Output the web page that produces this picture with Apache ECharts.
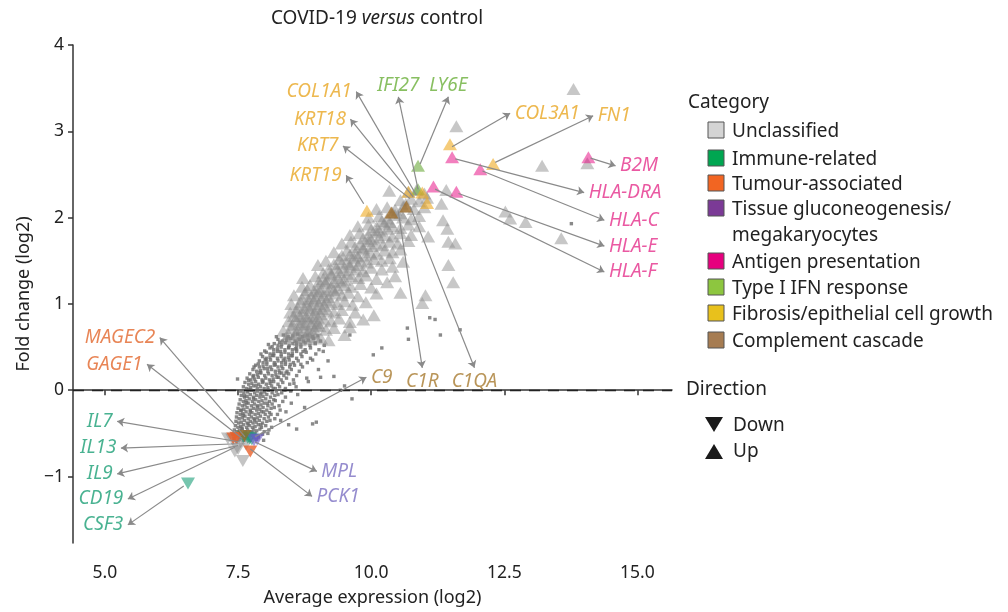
<!DOCTYPE html>
<html>
<head>
<meta charset="utf-8">
<script src="https://cdn.jsdelivr.net/npm/echarts@6/dist/echarts.min.js"></script>
<style>html,body{margin:0;padding:0;background:#fff}#c{width:1008px;height:612px}</style>
</head>
<body>
<div id="c"></div>
<script>
// ---------- DATA ----------
const xTicks = [5.0, 7.5, 10.0, 12.5, 15.0];
const yTicks = [-1, 0, 1, 2, 3, 4];

// non-significant genes (small dots)
const nsGenes = [
[7.42,-0.56],[7.47,-0.59],[7.52,-0.57],[7.57,-0.55],[7.61,-0.58],[7.67,-0.56],[7.73,-0.58],[7.79,-0.55],[7.85,-0.57],
[7.41,-0.51],[7.46,-0.53],[7.5,-0.52],[7.55,-0.50],[7.6,-0.53],[7.65,-0.51],[7.7,-0.53],[7.76,-0.52],[7.82,-0.50],[7.89,-0.53],[7.96,-0.51],
[7.43,-0.46],[7.48,-0.48],[7.53,-0.47],[7.58,-0.45],[7.63,-0.48],[7.68,-0.46],[7.74,-0.48],[7.79,-0.46],[7.85,-0.47],[7.91,-0.45],[7.99,-0.48],[8.08,-0.46],
[7.45,-0.41],[7.5,-0.43],[7.55,-0.42],[7.6,-0.40],[7.66,-0.43],[7.71,-0.41],[7.77,-0.43],[7.82,-0.42],[7.88,-0.40],[7.94,-0.43],[8.02,-0.41],[8.13,-0.43],
[7.46,-0.36],[7.51,-0.38],[7.56,-0.37],[7.62,-0.35],[7.67,-0.38],[7.73,-0.36],[7.78,-0.38],[7.84,-0.37],[7.9,-0.35],[7.96,-0.38],[8.04,-0.36],[8.9,-0.39],[8.97,-0.37],
[7.47,-0.31],[7.52,-0.33],[7.58,-0.32],[7.63,-0.30],[7.69,-0.33],[7.75,-0.31],[7.8,-0.33],[7.86,-0.32],[7.92,-0.30],[7.99,-0.33],[8.07,-0.31],[8.19,-0.33],
[7.48,-0.26],[7.54,-0.28],[7.59,-0.27],[7.65,-0.25],[7.71,-0.28],[7.76,-0.26],[7.82,-0.28],[7.88,-0.27],[7.94,-0.25],[8.01,-0.28],[8.09,-0.26],[8.24,-0.28],
[7.5,-0.21],[7.56,-0.23],[7.61,-0.22],[7.67,-0.20],[7.73,-0.23],[7.79,-0.21],[7.85,-0.23],[7.91,-0.22],[7.97,-0.20],[8.04,-0.23],[8.12,-0.21],[8.29,-0.23],
[7.52,-0.16],[7.58,-0.18],[7.63,-0.17],[7.69,-0.15],[7.75,-0.18],[7.81,-0.16],[7.87,-0.18],[7.93,-0.17],[7.99,-0.15],[8.06,-0.18],[8.14,-0.16],[8.27,-0.18],
[7.54,-0.11],[7.6,-0.13],[7.65,-0.12],[7.71,-0.10],[7.77,-0.13],[7.83,-0.11],[7.89,-0.13],[7.95,-0.12],[8.02,-0.10],[8.09,-0.13],[8.17,-0.11],[8.34,-0.13],[9.64,-0.10],
[7.56,-0.06],[7.62,-0.08],[7.67,-0.07],[7.73,-0.05],[7.79,-0.08],[7.85,-0.06],[7.91,-0.08],[7.97,-0.07],[8.04,-0.05],[8.11,-0.08],[8.19,-0.06],[8.39,-0.08],
[7.55,-0.01],[7.61,-0.03],[7.68,-0.02],[7.75,0.00],[7.81,-0.03],[7.87,-0.01],[7.94,-0.03],[8.0,-0.02],[8.07,0.00],[8.14,-0.03],[8.22,-0.01],[8.32,-0.03],[8.49,-0.01],[9.42,0.00],
[7.6,0.04],[7.66,0.02],[7.73,0.03],[7.79,0.05],[7.86,0.02],[7.92,0.04],[7.99,0.02],[8.06,0.03],[8.13,0.05],[8.2,0.02],[8.28,0.04],[8.39,0.02],[8.59,0.04],
[7.63,0.09],[7.7,0.07],[7.76,0.08],[7.83,0.10],[7.89,0.07],[7.96,0.09],[8.03,0.07],[8.1,0.08],[8.17,0.10],[8.25,0.07],[8.34,0.09],[8.47,0.07],
[7.49,0.13],[7.67,0.14],[7.74,0.12],[7.81,0.13],[7.88,0.15],[7.95,0.12],[8.02,0.14],[8.09,0.12],[8.16,0.13],[8.23,0.15],[8.31,0.12],[8.41,0.14],[8.54,0.12],[8.79,0.14],
[7.72,0.19],[7.79,0.17],[7.86,0.18],[7.93,0.20],[8.0,0.17],[8.07,0.19],[8.14,0.17],[8.21,0.18],[8.28,0.20],[8.36,0.17],[8.45,0.19],[8.6,0.17],
[7.78,0.24],[7.85,0.22],[7.92,0.23],[7.99,0.25],[8.06,0.22],[8.13,0.24],[8.2,0.22],[8.27,0.23],[8.34,0.25],[8.42,0.22],[8.5,0.24],[8.65,0.22],[9.01,0.24],
[7.83,0.29],[7.9,0.27],[7.97,0.28],[8.04,0.30],[8.11,0.27],[8.18,0.29],[8.25,0.27],[8.32,0.28],[8.39,0.30],[8.47,0.27],[8.56,0.29],[8.71,0.27],
[7.9,0.34],[7.97,0.32],[8.04,0.33],[8.11,0.35],[8.18,0.32],[8.25,0.34],[8.32,0.32],[8.39,0.33],[8.46,0.35],[8.54,0.32],[8.63,0.34],[8.8,0.32],[9.19,0.34],
[7.96,0.39],[8.03,0.37],[8.1,0.38],[8.17,0.40],[8.24,0.37],[8.31,0.39],[8.38,0.37],[8.45,0.38],[8.52,0.40],[8.6,0.37],[8.7,0.39],[8.86,0.37],[10.04,0.41],
[8.03,0.44],[8.1,0.42],[8.17,0.43],[8.24,0.45],[8.31,0.42],[8.38,0.44],[8.45,0.42],[8.52,0.43],[8.6,0.45],[8.68,0.42],[8.78,0.44],[8.96,0.42],[10.2,0.49],
[8.1,0.49],[8.17,0.47],[8.24,0.48],[8.31,0.50],[8.38,0.47],[8.45,0.49],[8.52,0.47],[8.6,0.48],[8.68,0.50],[8.76,0.47],[8.86,0.49],[9.02,0.47],
[8.18,0.54],[8.25,0.52],[8.32,0.53],[8.39,0.55],[8.46,0.52],[8.53,0.54],[8.6,0.52],[8.68,0.53],[8.76,0.55],[8.85,0.52],[8.95,0.54],[9.12,0.52],
[8.25,0.59],[8.33,0.57],[8.41,0.58],[8.49,0.60],[8.57,0.57],[8.65,0.59],[8.73,0.57],[8.82,0.58],[8.92,0.60],[9.05,0.57],[9.6,0.64],[10.7,0.59],
[8.35,0.64],[8.44,0.62],[8.53,0.63],[8.62,0.65],[8.71,0.62],[8.8,0.64],[8.9,0.62],[9.0,0.63],
[11.2,0.82],[11.3,0.64],[11.67,0.70],[11.1,0.84],[10.68,0.72],[13.76,1.93],[9.3,0.16],[9.5,0.05],[8.75,-0.2],[8.6,-0.45],
[7.52,-0.545],[7.64,-0.535],[7.76,-0.49],[7.57,-0.44],[7.69,-0.39],[7.81,-0.345],[7.6,-0.29],[7.73,-0.245],[7.86,-0.195],[7.66,-0.145],
[7.79,-0.095],[7.92,-0.045],[7.7,0.005],[7.84,0.055],[7.97,0.105],[7.78,0.155],[7.91,0.205],[8.05,0.255],[7.88,0.305],[8.01,0.355],
[8.15,0.405],[8.0,0.455],[8.14,0.505],[8.28,0.555],[8.42,0.605],[8.12,0.1],[8.26,0.15],[8.4,0.2],[8.2,0.3],[8.35,0.35],
[8.5,0.4],[8.3,0.45],[8.45,0.5],[8.6,0.55],[8.05,-0.15],[8.18,-0.2],[7.98,-0.25],[8.1,-0.35],[7.93,-0.4],[8.06,-0.5],
[7.88,-0.55],[8.25,-0.05],[8.38,0.0],[8.55,0.08],[8.68,0.3],[8.72,0.45],[8.9,0.35],[8.95,0.55],[9.1,0.45],[8.4,-0.25],
[8.5,-0.15],[8.62,-0.05],[8.82,0.1],[9.05,0.15],[8.3,-0.35],[8.45,-0.4],[7.55,-0.235],[7.62,-0.065],[7.7,0.115],[7.8,0.27],
[7.93,0.42],[8.07,0.53],[8.22,0.62],[8.16,0.02],[8.32,0.2],[8.48,0.3],[8.58,0.48],[8.12,-0.28],[8.2,-0.12],[7.98,-0.58]
];

// significant, unclassified, up-regulated
const unclassifiedUp = [
[8.4,0.6],[8.55,0.62],[8.66,0.58],[8.76,0.61],[8.86,0.59],[8.96,0.62],[9.06,0.6],[9.2,0.58],[9.5,0.64],[8.35,0.69],
[8.5,0.72],[8.62,0.7],[8.72,0.73],[8.83,0.68],[8.93,0.71],[9.03,0.74],[9.15,0.7],[9.3,0.72],[9.6,0.73],
[8.45,0.8],[8.58,0.82],[8.7,0.79],[8.8,0.83],[8.9,0.8],[9.0,0.78],[9.12,0.82],[9.25,0.8],[9.4,0.83],[9.6,0.79],[9.85,0.82],
[8.48,0.9],[8.6,0.92],[8.72,0.89],[8.85,0.93],[8.95,0.9],[9.05,0.88],[9.18,0.92],[9.3,0.9],[9.45,0.93],[9.7,0.9],[10.05,0.87],
[8.5,1.0],[8.68,1.02],[8.8,0.99],[8.92,1.03],[9.02,1.0],[9.12,0.98],[9.24,1.02],[9.36,1.0],[9.5,1.03],[9.65,0.99],[9.9,1.02],[10.55,1.13],[10.96,1.01],
[8.55,1.1],[8.75,1.12],[8.88,1.09],[9.0,1.13],[9.1,1.1],[9.2,1.08],[9.32,1.12],[9.45,1.1],[9.58,1.13],[9.75,1.09],[10.1,1.12],[11.02,1.1],
[8.7,1.2],[8.85,1.22],[9.0,1.19],[9.14,1.24],[9.25,1.2],[9.38,1.18],[9.5,1.22],[9.62,1.2],[9.8,1.23],[10.0,1.19],[10.3,1.25],[11.54,1.25],
[8.72,1.3],[8.95,1.32],[9.1,1.29],[9.25,1.33],[9.38,1.3],[9.5,1.28],[9.63,1.32],[9.76,1.3],[9.9,1.33],[10.1,1.29],[10.45,1.32],
[9.0,1.45],[9.2,1.4],[9.35,1.42],[9.48,1.39],[9.6,1.43],[9.72,1.4],[9.85,1.38],[10.0,1.42],[10.2,1.4],[10.4,1.43],[11.45,1.45],
[9.15,1.5],[9.4,1.52],[9.55,1.49],[9.68,1.53],[9.8,1.5],[9.92,1.48],[10.05,1.52],[10.2,1.5],[10.35,1.53],[10.6,1.49],
[9.3,1.6],[9.55,1.62],[9.7,1.59],[9.85,1.63],[9.98,1.6],[10.1,1.58],[10.25,1.62],[10.4,1.6],[10.55,1.63],
[9.45,1.7],[9.62,1.72],[9.8,1.69],[9.95,1.73],[10.1,1.7],[10.22,1.68],[10.35,1.72],[10.5,1.7],[10.7,1.73],[11.45,1.72],[11.58,1.7],[13.57,1.76],
[9.6,1.8],[9.78,1.82],[9.95,1.79],[10.1,1.83],[10.25,1.8],[10.4,1.78],[10.55,1.82],[10.75,1.8],[11.07,1.78],
[9.75,1.9],[9.95,1.92],[10.1,1.89],[10.25,1.93],[10.4,1.9],[10.55,1.88],[10.7,1.92],[10.9,1.9],[11.43,1.87],
[9.95,2.0],[10.15,2.02],[10.3,1.99],[10.45,2.03],[10.6,2.0],[10.75,1.98],[10.9,2.02],[11.35,1.97],[12.61,1.99],[12.9,1.95],[12.52,2.07],
[10.1,2.1],[10.3,2.12],[10.45,2.09],[10.6,2.13],[10.8,2.1],[11.0,2.12],[11.32,2.16],
[10.55,2.2],[10.75,2.22],[10.9,2.19],[11.05,2.23],[10.34,2.31],[10.7,2.3],[10.85,2.32],[11.0,2.28],[11.41,2.32],
[13.80,3.49],[11.6,3.06],[13.21,2.60],[14.06,2.63],
[8.45,0.65],[8.6,0.66],[8.7,0.64],[8.8,0.67],[8.9,0.66],[8.52,0.76],[8.65,0.77],[8.77,0.76],[8.88,0.77],[8.98,0.75],
[8.55,0.86],[8.66,0.86],[8.78,0.85],[8.9,0.86],[9.0,0.84],[8.62,0.96],[8.74,0.95],[8.86,0.97],[8.98,0.95],[9.08,0.94],
[8.7,1.06],[8.82,1.05],[8.95,1.07],[9.06,1.05],[9.16,1.04],[8.8,1.16],[8.93,1.15],[9.06,1.17],[9.18,1.15],[9.3,1.16],
[9.02,1.26],[9.16,1.27],[9.3,1.25],[9.42,1.26],[9.1,1.36],[9.25,1.35],[9.4,1.37],[9.55,1.35],[9.3,1.46],[9.45,1.47],
[9.6,1.46],[9.75,1.45],[9.45,1.56],[9.6,1.57],[9.75,1.55],[9.9,1.56],[9.7,1.66],[9.85,1.65],[10.0,1.67],[9.85,1.76],
[10.0,1.75],[10.15,1.77],[10.0,1.86],[10.15,1.85],[10.3,1.87],[10.2,1.96],[10.35,1.95],[10.4,2.06],[10.55,2.05],[10.65,2.16]
];
const unclassifiedDown = [[7.31,-0.56],[7.39,-0.57],[7.5,-0.68],[7.44,-0.71],[7.59,-0.82],[7.65,-0.63],[7.55,-0.6]];
const immuneDown = [[7.6,-0.54],[7.68,-0.55],[7.72,-0.56],[7.76,-0.57],[6.56,-1.08]];
const tumourDown = [[7.41,-0.56],[7.47,-0.55],[7.73,-0.71]];
const tissueDown = [[7.8,-0.58],[7.86,-0.57]];
const antigenUp = [[11.52,2.70],[12.05,2.56],[11.17,2.36],[11.6,2.30],[14.08,2.70]];
const ifnUp = [[10.88,2.60],[10.88,2.33]];
const fibrosisUp = [[9.92,2.08],[10.7,2.30],[10.96,2.29],[11.05,2.17],[11.48,2.85],[12.29,2.62]];
const complementUp = [[10.38,2.06],[10.66,2.13]];
const complementDown = [[7.62,-0.53]];

// labelled genes: name, category, arrow start (gene), arrow end (label)
const labelGenes = ['COL1A1','KRT18','KRT7','KRT19','IFI27','LY6E','COL3A1','FN1','B2M','HLA-DRA','HLA-C','HLA-E','HLA-F','C9','C1R','C1QA','MAGEC2','GAGE1','IL7','IL13','IL9','CD19','CSF3','MPL','PCK1'];
const labelCats = ['fib','fib','fib','fib','ifn','ifn','fib','fib','ant','ant','ant','ant','ant','comp','comp','comp','tum','tum','imm','imm','imm','imm','imm','tis','tis'];
const arrowStart = [[10.85,2.26],[10.79,2.24],[10.73,2.22],[9.86,2.16],[10.88,2.33],[10.92,2.62],[11.52,2.82],[12.33,2.64],[14.12,2.69],[11.58,2.68],[12.09,2.54],[11.64,2.28],[11.2,2.33],[7.82,-0.54],[10.51,2.07],[10.73,2.13],[7.63,-0.54],[7.58,-0.56],[7.54,-0.60],[7.5,-0.62],[7.5,-0.64],[7.44,-0.66],[6.48,-1.11],[7.82,-0.60],[7.73,-0.68]];
const arrowEnd = [[9.72,3.46],[9.61,3.14],[9.47,2.83],[9.53,2.49],[10.51,3.40],[11.45,3.40],[12.61,3.21],[14.17,3.18],[14.59,2.60],[14.0,2.29],[14.38,1.97],[14.38,1.67],[14.38,1.37],[9.91,0.15],[10.96,0.26],[11.94,0.26],[6.03,0.61],[5.79,0.30],[5.23,-0.36],[5.3,-0.67],[5.23,-0.97],[5.43,-1.26],[5.43,-1.56],[8.98,-0.94],[8.89,-1.23]];
const labelSide = ['left','left','left','left','top','top','right','right','right','right','right','right','right','right','bottom','bottom','left','left','left','left','left','left','left','right','right'];

// ---------- STYLE ----------
const FONT = '"Noto Sans", "Open Sans", sans-serif';
const labelColor = {fib:'#e8a623', ifn:'#6aaf3a', ant:'#e5308b', comp:'#a77a2f', tum:'#e2662c', imm:'#1c9f76', tis:'#7a6fc2'};

const chart = echarts.init(document.getElementById('c'), null, {renderer:'canvas'});

function tri(name, data, color, opacity, down, z) {
  return {
    type:'scatter', name, data, symbol:'triangle', symbolSize:[14,12],
    symbolRotate: down ? 180 : 0,
    itemStyle:{color, opacity}, z: z || 3, silent:true, animation:false
  };
}

const legendItems = [
  ['Unclassified','#d4d4d4',130],
  ['Immune-related','#00a651',158],
  ['Tumour-associated','#f26522',183],
  ['Tissue gluconeogenesis/','#7b3a96',208],
  ['Antigen presentation','#e6007e',261],
  ['Type I IFN response','#8dc63f',287],
  ['Fibrosis/epithelial cell growth','#e8c11c',313],
  ['Complement cascade','#a67c52',340]
];
const LFONT = '19px ' + FONT;
const graphics = [];
graphics.push({type:'text', x:688, y:103, style:{text:'Category', font:LFONT, fill:'#222', textVerticalAlign:'middle'}});
legendItems.forEach(([t,c,y]) => {
  graphics.push({type:'rect', x:708, y:y-8, shape:{width:16,height:16}, style:{fill:c, stroke:'#555', lineWidth:1}});
  graphics.push({type:'text', x:732, y:y+1.5, style:{text:t, font:LFONT, fill:'#222', textVerticalAlign:'middle'}});
});
graphics.push({type:'text', x:732, y:236, style:{text:'megakaryocytes', font:LFONT, fill:'#222', textVerticalAlign:'middle'}});
graphics.push({type:'text', x:686, y:390, style:{text:'Direction', font:LFONT, fill:'#222', textVerticalAlign:'middle'}});
graphics.push({type:'polygon', shape:{points:[[705,417],[723,417],[714,432]]}, style:{fill:'#1a1a1a'}});
graphics.push({type:'text', x:733, y:426, style:{text:'Down', font:LFONT, fill:'#222', textVerticalAlign:'middle'}});
graphics.push({type:'polygon', shape:{points:[[705,459],[723,459],[714,444]]}, style:{fill:'#1a1a1a'}});
graphics.push({type:'text', x:733, y:452, style:{text:'Up', font:LFONT, fill:'#222', textVerticalAlign:'middle'}});

const option = {
  backgroundColor:'#fff',
  animation:false,
  title:{
    text:'{a|COVID-19 }{b|versus}{a| control}',
    left:372, top:4, textAlign:'center',
    textStyle:{fontWeight:'normal', rich:{
      a:{fontSize:19, color:'#222', fontFamily:FONT, fontWeight:'normal'},
      b:{fontSize:19, color:'#222', fontFamily:FONT, fontStyle:'italic', fontWeight:'normal'}
    }}
  },
  grid:{left:73, right:336, top:45, bottom:64},
  xAxis:{
    type:'value', min:4.4, max:15.65,
    name:'Average expression (log2)', nameLocation:'middle', nameGap:46,
    nameTextStyle:{fontSize:18, color:'#222', fontFamily:FONT},
    axisLine:{show:true, lineStyle:{color:'#333', width:1.5}},
    axisTick:{show:true, length:5, customValues:xTicks, lineStyle:{color:'#333', width:1.5}},
    axisLabel:{customValues:xTicks, formatter:v=>v.toFixed(1), fontSize:17.5, color:'#222', fontFamily:FONT, margin:21},
    splitLine:{show:false}
  },
  yAxis:{
    type:'value', min:-1.77, max:4.0,
    name:'Fold change (log2)', nameLocation:'middle', nameGap:40,
    nameTextStyle:{fontSize:18, color:'#222', fontFamily:FONT},
    axisLine:{show:true, lineStyle:{color:'#333', width:1.5}},
    axisTick:{show:true, length:5, customValues:yTicks, lineStyle:{color:'#333', width:1.5}},
    axisLabel:{customValues:yTicks, formatter:v=>String(v).replace('-','\u2212'), fontSize:17.5, color:'#222', fontFamily:FONT, margin:9},
    splitLine:{show:false}
  },
  graphic:graphics,
  series:[
    {type:'scatter', name:'ns', data:nsGenes, symbol:'rect', symbolSize:3.4, itemStyle:{color:'#6c6c6c'}, z:1, silent:true,
     markLine:{silent:true, symbol:'none', label:{show:false}, lineStyle:{color:'#222', type:[11,8], width:1.4}, data:[{yAxis:0}]}},
    tri('Unclassified', unclassifiedUp, '#8a8a8a', 0.48, false, 2),
    tri('Unclassified down', unclassifiedDown, '#8a8a8a', 0.5, true, 2),
    tri('Immune-related', immuneDown, '#1a9e78', 0.6, true),
    tri('Tumour-associated', tumourDown, '#e8602a', 0.8, true),
    tri('Tissue gluconeogenesis/megakaryocytes', tissueDown, '#6a5acd', 0.6, true),
    tri('Complement down', complementDown, '#a06a20', 0.7, true),
    tri('Antigen presentation', antigenUp, '#e6007e', 0.5, false),
    tri('Type I IFN response', ifnUp, '#6aaa3a', 0.6, false),
    tri('Fibrosis/epithelial cell growth', fibrosisUp, '#eeaa22', 0.6, false),
    tri('Complement cascade', complementUp, '#a06a20', 0.7, false),
    {type:'lines', coordinateSystem:'cartesian2d', z:5, silent:true,
     symbol:['none','arrow'], symbolSize:7,
     lineStyle:{color:'#8a8a8a', width:1.2, opacity:1},
     data: arrowStart.map((s,i)=>({coords:[s, arrowEnd[i]]}))},
    {type:'scatter', name:'labels', z:6, silent:true, symbolSize:1, itemStyle:{color:'rgba(0,0,0,0)'},
     data: labelGenes.map((g,i)=>({
       name:g, value:arrowEnd[i],
       label:{show:true, formatter:'{b}', position:labelSide[i], distance:labelSide[i]==='top'?1:4,
              color:labelColor[labelCats[i]], fontSize:19, fontStyle:'italic', fontFamily:FONT}
     }))}
  ]
};
chart.setOption(option);
</script>
</body>
</html>
